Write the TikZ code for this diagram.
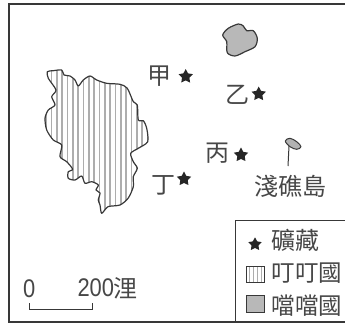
\documentclass[tikz,border=0pt]{standalone}
\usepackage{graphicx}
\usepackage{fontspec}
\setmainfont{Liberation Sans}
\newfontfamily\cjk{Noto Sans CJK TC}
\definecolor{ink}{gray}{0.22}
\definecolor{txt}{gray}{0.28}
\definecolor{fillgray}{gray}{0.72}
\definecolor{stripegray}{gray}{0.68}
\tikzset{
  mapline/.style={draw=ink,line width=1.2pt,line join=round},
  label/.style={inner sep=0pt,text=txt,font=\cjk\fontsize{24}{24}\selectfont},
  num/.style={inner sep=0pt,text=txt,font=\fontsize{25.5}{25.5}\selectfont},
  starmark/.style={fill=black!85,draw=none}
}
\newcommand{\starat}[3]{%
  \fill[starmark] (#1,#2)
  +(270:#3) -- +(306:#3*0.52) -- +(342:#3) -- +(18:#3*0.52) -- +(54:#3) -- +(90:#3*0.52) -- +(126:#3) -- +(162:#3*0.52) -- +(198:#3) -- +(234:#3*0.52) -- cycle;}
\begin{document}
\begin{tikzpicture}[x=1pt,y=-1pt]
\useasboundingbox (0,0) rectangle (345,324);
% frame
\coordinate (fa) at (345,4);
\coordinate (fb) at (9,4);
\coordinate (fc) at (9,322);
\coordinate (fd) at (345,322);
\draw[ink,line width=1.8pt] (fa) -- (fb) -- (fc) -- (fd);
% mainland
\def\mainland{plot[smooth cycle,tension=0.45] coordinates {
(47.3,71.7)(53.3,70.7)(61.7,70)(64,75)(70,76)(75,80)(78.3,86)(83.3,80)(90,76)(96.7,80)(106.7,83.3)(120,84.3)(127.3,88.3)(133.3,101.7)(137.3,105)(138.3,120)(143.3,120.7)(146.7,128.3)(147.7,141.7)(138.3,148.3)(130.7,153.3)(133.3,161.7)(137.3,168.3)(133.3,176.7)(133.3,186.7)(128.3,198)(120,205)(108,206.7)(101.7,213.3)(100,205)(98.3,200)(100,193)(96,190)(98.3,185)(91.7,181.7)(85,183.3)(81.7,176)(75,180)(68.3,178.3)(68.3,171.7)(72.7,169.3)(66.7,161.7)(60,156.7)(61.7,145)(53.3,140)(46.7,130)(45,118.3)(48.3,110)(55,105)(51.7,96.7)(56,90)(48.3,78.3)}}
\begin{scope}
\clip \mainland;
\foreach \i in {0,...,19}{
  \draw[stripegray,line width=1.7pt] ({46.3+5.33*\i},60) -- ({46.3+5.33*\i},220);
}
\end{scope}
\draw[mapline] \mainland;
% gray island
\draw[mapline,fill=fillgray] plot[smooth cycle,tension=0.5] coordinates {
(222.7,35)(228.3,28.3)(238.3,24)(243.3,26)(246.7,30.7)(253.3,30.7)(257.3,38.3)(255,46.7)(245,51.7)(235,56)(227.3,52.7)(226.7,41.7)};
% small island
\draw[mapline,fill=black!30,line width=1pt] plot[smooth cycle,tension=0.6] coordinates {
(285.3,141)(290,138.3)(296.7,141.7)(301,146.7)(296.7,149.3)(290,146.7)};
\coordinate (lead1) at (289,146);
\coordinate (lead2) at (288,166);
\draw[ink,line width=1pt] (lead1) -- (lead2);
% stars
\starat{185.7}{76.5}{7.5}
\starat{258.7}{94}{7.5}
\starat{241}{155}{7.5}
\starat{184}{179}{7.5}
% labels
\node[label] (jia) at (159,76) {甲};
\node[label] (yi) at (237.3,95) {乙};
\node[label] (bing) at (217.3,153) {丙};
\node[label] (ding) at (163,185) {丁};
\node[label] (reef) at (290,186) {淺礁島};
% legend
\coordinate (la) at (235.7,322);
\coordinate (lb) at (235.7,220);
\coordinate (lc) at (345,220);
\draw[ink,line width=0.9pt] (la) -- (lb) -- (lc);
\starat{255}{244.3}{7}
\node[label] (l1) at (295,240.5) {礦藏};
\begin{scope}
\clip (246.7,266) rectangle (264,282.7);
\foreach \i in {0,...,3}{
  \draw[stripegray,line width=1.6pt] ({249.5+4*\i},266) -- ({249.5+4*\i},283);
}
\end{scope}
\draw[ink,line width=0.8pt] (246.7,266) rectangle (264,282.7);
\draw[ink,line width=0.8pt,fill=fillgray] (246.7,295) rectangle (264,312.7);
\node[label,font=\cjk\fontsize{23.5}{23.5}\selectfont] (l2) at (307,272.7) {叮叮國};
\node[label,font=\cjk\fontsize{23.5}{23.5}\selectfont] (l3) at (307,305.7) {噹噹國};
% scale
\node[num] (z) at (29.3,288.5) {\scalebox{0.86}[1]{0}};
\node[num,anchor=east] (two) at (114.3,287.5) {\scalebox{0.86}[1]{200}};
\node[label,anchor=west] (li) at (113.5,288) {浬};
\coordinate (s1) at (29.3,303.3);
\coordinate (s2) at (29.3,309.3);
\coordinate (s3) at (92.7,309.3);
\coordinate (s4) at (92.7,303.3);
\draw[ink,line width=1pt] (s1) -- (s2) -- (s3) -- (s4);
\end{tikzpicture}
\end{document}
